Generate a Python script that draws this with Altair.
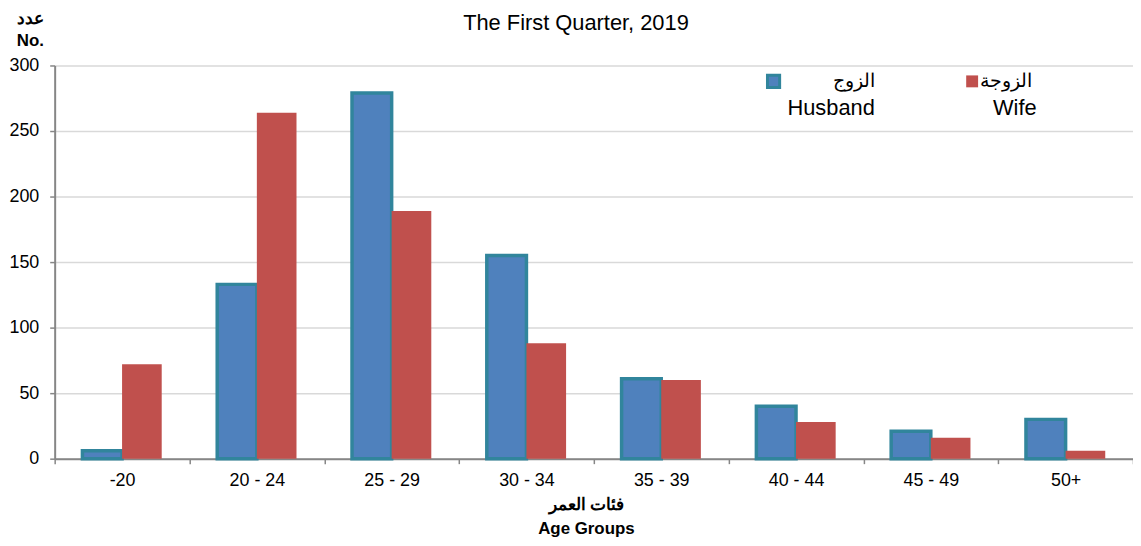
import altair as alt
import pandas as pd

# ---- data ----
ages = ["-20", "20 - 24", "25 - 29", "30 - 34", "35 - 39", "40 - 44", "45 - 49", "50+"]
series = ["Husband", "Wife"]
husband = [6, 133, 279, 155, 61, 40, 21, 30]
wife = [72, 264, 189, 88, 60, 28, 16, 6]
y_ticks = [0, 50, 100, 150, 200, 250, 300]

legend_ar = ["الزوج", "الزوجة"]
legend_en = ["Husband", "Wife"]
x_title = ["فئات العمر", "Age Groups"]
y_title = ["عدد", "No."]
chart_title = "The First Quarter, 2019"

BLUE = "#4F81BD"
TEAL = "#31859C"
RED = "#C0504D"
FONT = "Liberation Sans"

rows = []
for a, v in zip(ages, husband):
    rows.append({"age": a, "series": "Husband", "value": v})
for a, v in zip(ages, wife):
    rows.append({"age": a, "series": "Wife", "value": v})
df = pd.DataFrame(rows)

bars = alt.Chart(df).mark_bar().encode(
    x=alt.X(
        "age:N",
        sort=ages,
        scale=alt.Scale(paddingInner=0, paddingOuter=0),
        axis=alt.Axis(
            title=x_title,
            labelAngle=0,
            tickBand="extent",
            labelFontSize=18,
            labelPadding=8,
            titleFontSize=17,
            titleFontWeight="bold",
            titleLineHeight=24,
            titleX=535,
            titlePadding=7,
            grid=False,
        ),
    ),
    xOffset=alt.XOffset(
        "series:N", sort=series,
        scale=alt.Scale(domain=series, paddingInner=0, paddingOuter=0.7),
    ),
    y=alt.Y(
        "value:Q",
        scale=alt.Scale(domain=[0, 300], nice=False),
        axis=alt.Axis(
            values=y_ticks,
            title=y_title,
            titleAngle=0,
            titleAlign="center",
            titleBaseline="top",
            titleX=-25,
            titleY=-55,
            titleFontSize=17,
            titleFontWeight="bold",
            titleLineHeight=22,
            labelFontSize=18,
            labelPadding=11,
        ),
    ),
    fill=alt.Fill("series:N", scale=alt.Scale(domain=series, range=[BLUE, RED]), legend=None),
    stroke=alt.Stroke("series:N", scale=alt.Scale(domain=series, range=[TEAL, RED]), legend=None),
    strokeWidth=alt.condition(alt.datum.series == "Husband", alt.value(3.5), alt.value(0)),
    order=alt.Order("series:N"),
)

# ---- custom legend (positions are layout only) ----
leg_sq_h = alt.Chart(pd.DataFrame({"s": [series[0]]})).mark_square(
    size=150, fill=BLUE, stroke=TEAL, strokeWidth=3, opacity=1
).encode(x=alt.value(724), y=alt.value(16))
leg_sq_w = alt.Chart(pd.DataFrame({"s": [series[1]]})).mark_square(
    size=144, fill=RED, opacity=1
).encode(x=alt.value(924), y=alt.value(16))
leg_ar_h = alt.Chart(pd.DataFrame({"t": [legend_ar[0]]})).mark_text(
    align="right", baseline="middle", fontSize=19, font=FONT, color="#000000"
).encode(text="t:N", x=alt.value(826), y=alt.value(16))
leg_ar_w = alt.Chart(pd.DataFrame({"t": [legend_ar[1]]})).mark_text(
    align="right", baseline="middle", fontSize=19, font=FONT, color="#000000"
).encode(text="t:N", x=alt.value(984), y=alt.value(16))
leg_en_h = alt.Chart(pd.DataFrame({"t": [legend_en[0]]})).mark_text(
    align="right", baseline="middle", fontSize=22, font=FONT, color="#000000"
).encode(text="t:N", x=alt.value(826), y=alt.value(43))
leg_en_w = alt.Chart(pd.DataFrame({"t": [legend_en[1]]})).mark_text(
    align="right", baseline="middle", fontSize=22, font=FONT, color="#000000"
).encode(text="t:N", x=alt.value(989), y=alt.value(43))

chart = alt.layer(
    bars, leg_sq_h, leg_sq_w, leg_ar_h, leg_ar_w, leg_en_h, leg_en_w
).properties(
    width=1086,
    height=396,
    title=alt.Title(
        chart_title,
        fontSize=22,
        font=FONT,
        fontWeight="normal",
        color="#000000",
        anchor="middle",
        dx=-18,
        dy=29,
    ),
    autosize=alt.AutoSizeParams(type="none"),
    padding={"left": 47, "top": 56, "right": 0, "bottom": 80},
).configure(
    font=FONT,
).configure_view(
    stroke=None,
).configure_axis(
    labelFont=FONT,
    titleFont=FONT,
    labelColor="#000000",
    titleColor="#000000",
    domainColor="#868686",
    domainWidth=2,
    tickColor="#868686",
    tickWidth=1.5,
    tickSize=5,
    gridColor="#D9D9D9",
    gridWidth=1.5,
)

chart.save("out.html", embed_options={"renderer": "svg", "actions": False})
